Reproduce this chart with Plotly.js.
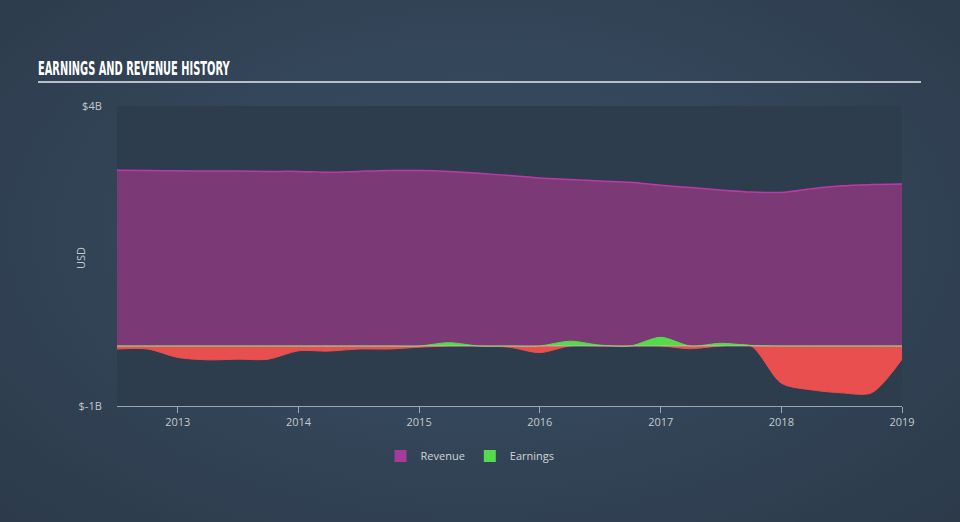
<!DOCTYPE html>
<html>
<head>
<meta charset="utf-8">
<script src="https://cdn.plot.ly/plotly-3.0.1.min.js"></script>
<style>
  html, body { margin: 0; padding: 0; width: 960px; height: 522px; overflow: hidden;
    background: radial-gradient(ellipse at 50% 45%, #3a4b5d 0%, #34465a 45%, #2c3a4a 100%); }
  #chart { width: 960px; height: 522px; }
</style>
</head>
<body>
<div id="chart"></div>
<script>
const dates = [
  '2012-07-01','2012-10-01','2013-01-01','2013-04-01','2013-07-01','2013-10-01',
  '2014-01-01','2014-04-01','2014-07-01','2014-10-01','2015-01-01','2015-04-01',
  '2015-07-01','2015-10-01','2016-01-01','2016-04-01','2016-07-01','2016-10-01',
  '2017-01-01','2017-04-01','2017-07-01','2017-10-01','2018-01-01','2018-04-01',
  '2018-07-01','2018-10-01','2019-01-01'
];
// USD billions
const revenue = [
  2.93, 2.925, 2.92, 2.915, 2.915, 2.91,
  2.91, 2.895, 2.91, 2.925, 2.925, 2.91,
  2.88, 2.84, 2.80, 2.775, 2.75, 2.73,
  2.68, 2.64, 2.60, 2.565, 2.56, 2.62,
  2.67, 2.69, 2.70
];
const earnings = [
  -0.05, -0.05, -0.19, -0.23, -0.22, -0.22,
  -0.08, -0.085, -0.05, -0.05, -0.02, 0.055,
  0.0, -0.02, -0.11, 0.08, 0.015, 0.0,
  0.145, -0.045, 0.045, 0.01, -0.62, -0.73,
  -0.78, -0.78, -0.22
];
const yTickVals = [-1, 4];
const yTickText = ['$-1B', '$4B'];
const xTickVals = ['2013-01-01','2014-01-01','2015-01-01','2016-01-01','2017-01-01','2018-01-01','2019-01-01'];
const xTickText = ['2013','2014','2015','2016','2017','2018','2019'];

const earnPos = earnings.map(v => Math.max(v, 0));
const earnNeg = earnings.map(v => Math.min(v, 0));

const traces = [
  {
    x: dates, y: revenue, name: 'Revenue', type: 'scatter', mode: 'lines',
    fill: 'tozeroy', fillcolor: '#7b3a76', showlegend: false,
    line: { color: '#bb3aa8', width: 1.5, shape: 'spline', smoothing: 0.8 },
    hoverinfo: 'skip'
  },
  {
    x: dates, y: earnNeg, name: 'Earnings neg', type: 'scatter', mode: 'lines',
    fill: 'tozeroy', fillcolor: '#e94f4f', showlegend: false,
    line: { color: '#e94f4f', width: 1, shape: 'spline', smoothing: 0.8 },
    hoverinfo: 'skip'
  },
  {
    x: dates, y: earnPos, name: 'Earnings pos', type: 'scatter', mode: 'lines',
    fill: 'tozeroy', fillcolor: '#57d94e', showlegend: false,
    line: { color: '#57d94e', width: 1, shape: 'spline', smoothing: 0.8 },
    hoverinfo: 'skip'
  },
  { x: [null], y: [null], type: 'bar', name: 'Revenue', marker: { color: '#a83a9c' }, hoverinfo: 'skip' },
  { x: [null], y: [null], type: 'bar', name: 'Earnings', marker: { color: '#57d94e' }, hoverinfo: 'skip' }
];

const layout = {
  width: 960, height: 522,
  paper_bgcolor: 'rgba(0,0,0,0)',
  plot_bgcolor: '#2e3d4d',
  margin: { l: 117, r: 58, t: 106, b: 116 },
  font: { family: 'Open Sans, Lato, sans-serif', color: '#c3c9cf', size: 11 },
  title: {
    text: '<b>EARNINGS AND REVENUE HISTORY</b>',
    x: 38 / 960, xanchor: 'left', xref: 'container',
    y: 1 - 68 / 522, yanchor: 'middle', yref: 'container',
    font: { family: 'Liberation Sans Narrow, DejaVu Sans Condensed, sans-serif', size: 19, color: '#ffffff' }
  },
  xaxis: {
    type: 'date',
    range: ['2012-07-01', '2019-01-01'],
    tickvals: xTickVals, ticktext: xTickText,
    showgrid: false, zeroline: false,
    showline: true, linecolor: '#9aa6b2', linewidth: 1,
    ticks: 'outside', ticklen: 6, tickcolor: '#9aa6b2',
    tickfont: { color: '#c3c9cf', size: 11 }
  },
  yaxis: {
    range: [-1, 4],
    tickvals: yTickVals, ticktext: yTickText,
    showgrid: false, zeroline: false, showline: false,
    ticks: 'outside', ticklen: 12, tickcolor: 'rgba(0,0,0,0)',
    tickfont: { color: '#c3c9cf', size: 11 }
  },
  showlegend: true,
  legend: {
    orientation: 'h', x: 470 / 960, xanchor: 'center', xref: 'container',
    y: 1 - 456 / 522, yanchor: 'middle', yref: 'container',
    font: { color: '#d0d4d8', size: 11 },
    bgcolor: 'rgba(0,0,0,0)'
  },
  shapes: [
    { type: 'line', xref: 'paper', yref: 'paper',
      x0: (38 - 117) / 785, x1: (921 - 117) / 785,
      y0: (406 - 82) / 300, y1: (406 - 82) / 300,
      line: { color: '#b7bfc7', width: 2 } },
    { type: 'line', xref: 'paper', yref: 'y', x0: 0, x1: 1, y0: 0, y1: 0,
      layer: 'above', line: { color: 'rgba(240,195,210,0.55)', width: 1 } }
  ],
  annotations: [
    { text: 'USD', xref: 'paper', yref: 'paper', x: (80 - 117) / 785, y: (406 - 258) / 300,
      xanchor: 'center', yanchor: 'middle', textangle: -90, showarrow: false,
      font: { color: '#c3c9cf', size: 11 } }
  ]
};

Plotly.newPlot('chart', traces, layout, { displayModeBar: false, staticPlot: true }).then(function (gd) {
  // condense the title horizontally to match the narrow display face
  const t = gd.querySelector('.gtitle');
  if (t) {
    const bb = t.getBBox();
    const target = 192;
    if (bb.width > target) {
      const sx = target / bb.width;
      const x0 = bb.x;
      t.setAttribute('transform', 'translate(' + x0 + ',0) scale(' + sx + ',1) translate(' + (-x0) + ',0)');
    }
  }
});
</script>
</body>
</html>
